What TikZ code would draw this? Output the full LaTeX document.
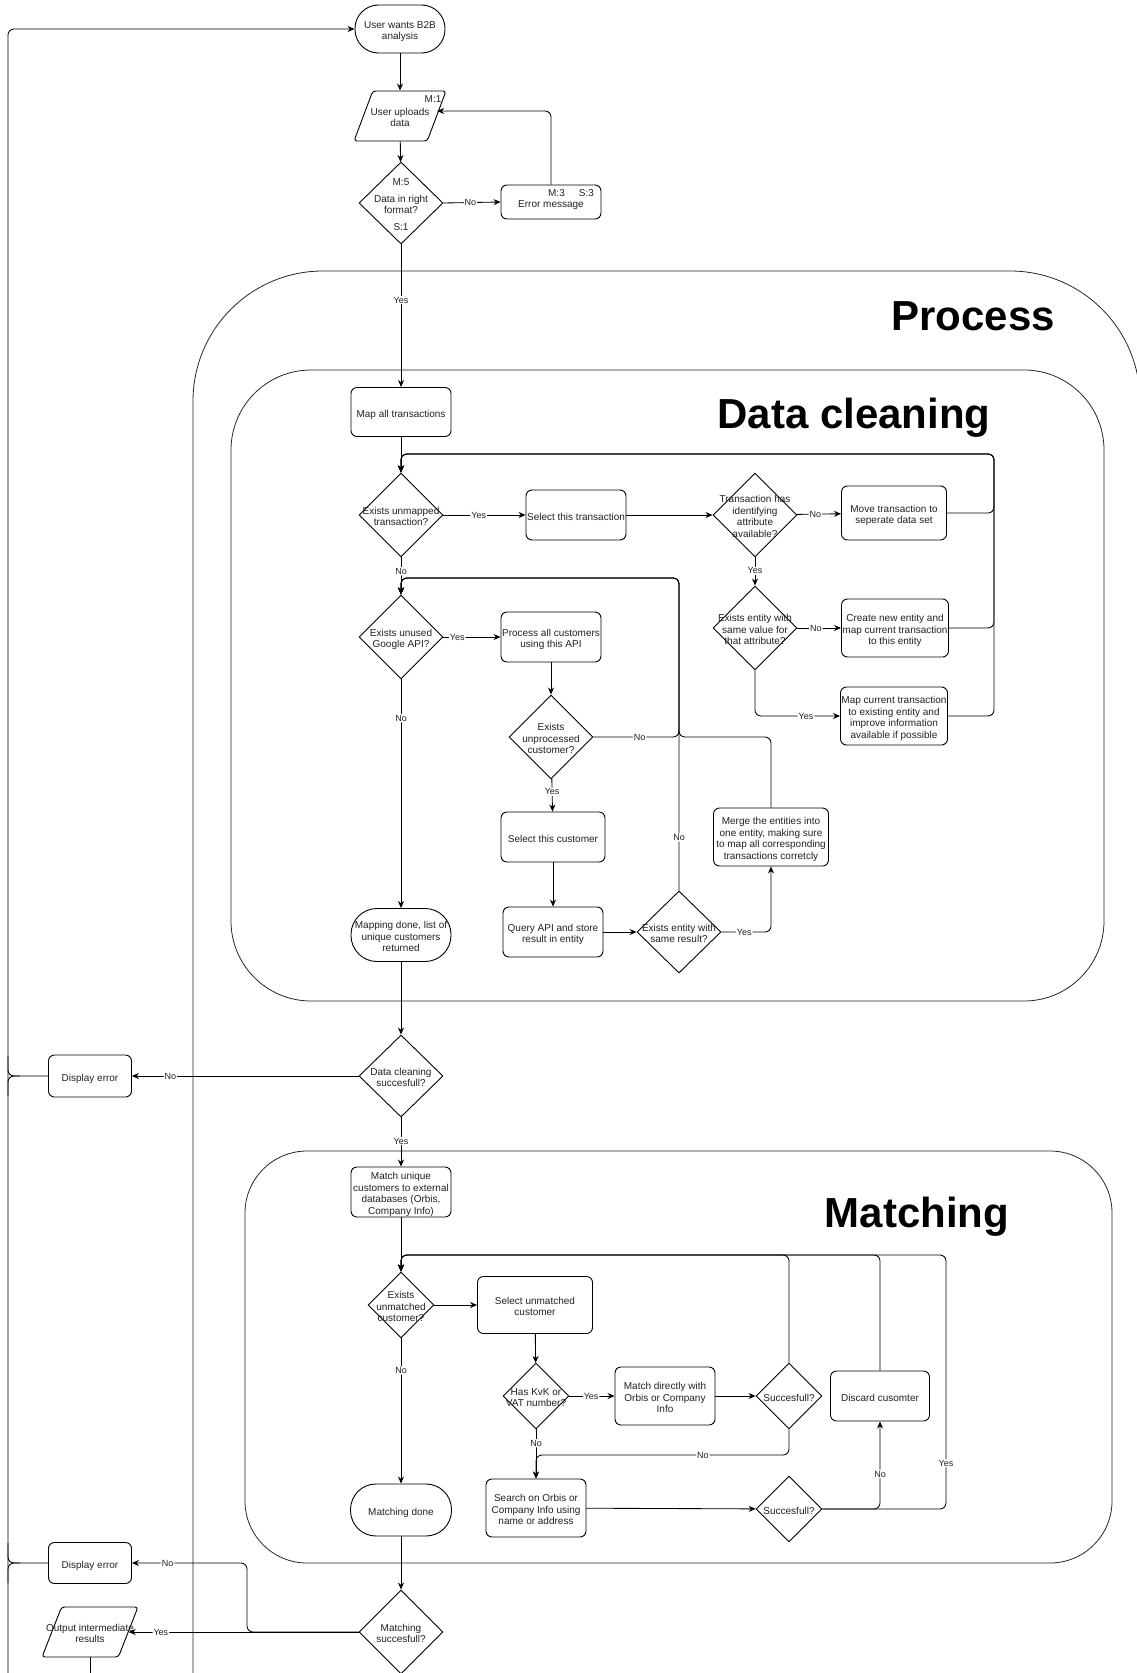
\documentclass[tikz,border=0pt]{standalone}
\usepackage{fontspec}
\setmainfont{Liberation Sans}
\usetikzlibrary{shapes.geometric,arrows.meta,calc}

% centred multi-line text that takes no room, so shapes keep their set size
\newcommand{\tx}[1]{\raisebox{-0.52em}[0pt][0pt]{\makebox[0pt]{\begin{tabular}{@{}c@{}}#1\end{tabular}}}}
\definecolor{ink}{HTML}{222222}

\tikzset{
  every node/.style={font=\fontsize{10}{11.7}\selectfont, text=ink},
  shapebase/.style={draw=black, line width=0.9pt, fill=white, inner sep=0pt},
  procbox/.style 2 args={shapebase, rectangle, rounded corners=6pt, minimum width=#1, minimum height=#2},
  terminal/.style 2 args={shapebase, rectangle, rounded corners=#2/2-0.5, minimum width=#1, minimum height=#2},
  decision/.style 2 args={shapebase, diamond, minimum width=#1, minimum height=#2},
  iobox/.style 2 args={shapebase, inner sep=2pt, trapezium, trapezium left angle=71, trapezium right angle=109,
    trapezium stretches=true, rounded corners=3pt, minimum width=#1, minimum height=#2},
  flow/.style={draw=black, line width=0.85pt, rounded corners=6pt, -{Stealth[length=7pt,width=6pt]}},
  plain/.style={draw=black, line width=0.85pt, rounded corners=6pt},
  lbl/.style={fill=white, inner sep=1pt, font=\fontsize{9}{10}\selectfont},
  title/.style={font=\fontsize{42}{48}\selectfont\bfseries, text=black, anchor=base, inner sep=0pt},
  frame/.style={draw=black!85, line width=0.8pt},
}

\begin{document}
\begin{tikzpicture}[x=1pt, y=-1pt]
\useasboundingbox (0,0) rectangle (1136,1673);

% ---- containers ----
\draw[frame, rounded corners=130pt] (193,1690) -- (193,271) -- (1140,271) -- (1140,1690);
\draw[frame, rounded corners=80pt] (231,370) rectangle (1104,1001);
\draw[frame, rounded corners=62pt] (245,1151) rectangle (1112,1563);

\node[title] (tproc) at (973,330) {Process};
\node[title] (tdc) at (854,428) {Data cleaning};
\node[title] (tmatch) at (917,1227) {Matching};

% ---- intake ----
\node[terminal={90}{48}] (start) at (400,29) {\tx{User wants B2B\\analysis}};
\node[iobox={92}{50}] (upload) at (400,116) {\tx{User uploads\\data}};
\node (m1) at (433,99) {M:1};
\node[decision={84}{82}] (fmt) at (401,203) {\tx{Data in right\\format?}};
\node (fmtm) at (401,182) {M:5};
\node (fmts) at (401,227) {S:1};
\node[procbox={100}{34}] (err) at (551,202) {\tx{Error message}};
\node (errms) at (571,193) {M:3\hspace{14pt}S:3};

% ---- data cleaning ----
\node[procbox={100}{49}] (mapall) at (401,412) {\tx{Map all transactions}};
\node[decision={84}{84}] (unmapped) at (401,515) {\tx{Exists unmapped\\transaction?}};
\node[procbox={100}{50}] (seltr) at (576,515) {\tx{Select this transaction}};
\node[decision={84}{84}] (ident) at (755,515) {\tx{Transaction has\\identifying\\attribute\\available?}};
\node[procbox={105}{54}] (move) at (894,513) {\tx{Move transaction to\\seperate data set}};
\node[decision={84}{84}] (samev) at (755,628) {\tx{Exists entity with\\same value for\\that attribute?}};
\node[procbox={107}{58}] (create) at (895,628) {\tx{Create new entity and\\map current transaction\\to this entity}};
\node[procbox={107}{58}] (mapcur) at (894,716) {\tx{Map current transaction\\to existing entity and\\improve information\\available if possible}};
\node[decision={84}{84}] (google) at (401,637) {\tx{Exists unused\\Google API?}};
\node[procbox={100}{50}] (procall) at (551,637) {\tx{Process all customers\\using this API}};
\node[decision={84}{84}] (unproc) at (551,737) {\tx{Exists\\unprocessed\\customer?}};
\node[procbox={104}{50}] (selcust) at (553,837) {\tx{Select this customer}};
\node[procbox={100}{50}] (query) at (553,932) {\tx{Query API and store\\result in entity}};
\node[decision={84}{82}] (sameres) at (679,932) {\tx{Exists entity with\\same result?}};
\node[procbox={115}{58}] (merge) at (771,837) {\tx{Merge the entities into\\one entity, making sure\\to map all corresponding\\transactions corretcly}};
\node[terminal={100}{53}] (mapdone) at (401,935) {\tx{Mapping done, list of\\unique customers\\returned}};

% ---- checks and matching ----
\node[decision={84}{82}] (dcok) at (401,1076) {\tx{Data cleaning\\succesfull?}};
\node[procbox={83}{42}] (derr1) at (90,1076) {\tx{Display error}};
\node[procbox={100}{50}] (matchext) at (401,1192) {\tx{Match unique\\customers to external\\databases (Orbis,\\Company Info)}};
\node[decision={66}{66}] (unmatched) at (401,1305) {\tx{Exists\\unmatched\\customer?}};
\node[procbox={115}{57}] (selun) at (535,1305) {\tx{Select unmatched\\customer}};
\node[decision={66}{66}] (kvk) at (536,1396) {\tx{Has KvK or\\VAT number?}};
\node[procbox={100}{58}] (direct) at (665,1396) {\tx{Match directly with\\Orbis or Company\\Info}};
\node[decision={66}{66}] (succ1) at (789,1396) {\tx{Succesfull?}};
\node[procbox={99}{50}] (discard) at (880,1396) {\tx{Discard cusomter}};
\node[procbox={100}{58}] (search) at (536,1508) {\tx{Search on Orbis or\\Company Info using\\name or address}};
\node[decision={66}{66}] (succ2) at (789,1509) {\tx{Succesfull?}};
\node[terminal={101}{52}] (mdone) at (401,1510) {\tx{Matching done}};
\node[decision={84}{84}] (mok) at (401,1632) {\tx{Matching\\succesfull?}};
\node[procbox={83}{41}] (derr2) at (90,1563) {\tx{Display error}};
\node[iobox={96}{50}] (outres) at (90,1632) {\tx{Output intermediate\\results}};

% ---- routing points ----
\coordinate (lbot) at (8,1690);
\coordinate (obot) at (90,1690);
\coordinate (j1) at (8,1076);
\coordinate (j2) at (8,1563);
\coordinate (dcR) at (994,454);
\coordinate (gl) at (679,578);
\coordinate (mj) at (679,737);
\coordinate (mR) at (946,1255);
\coordinate (sj) at (789,1455);
\coordinate (mj2) at (247,1563);

% ---- connectors: intake ----
\draw[flow] (lbot) |- (start.west);
\draw[flow] (start) -- (upload);
\draw[flow] (upload) -- (fmt);
\draw[flow] (fmt.east) -- node[lbl, pos=0.47]{No} (err.west);
\draw[flow] (err.north) |- ([yshift=5pt]upload.east);
\draw[flow] (fmt) -- node[lbl, pos=0.39]{Yes} (mapall);

% ---- connectors: data cleaning ----
\draw[flow] (mapall) -- (unmapped);
\draw[flow] (unmapped) -- node[lbl, pos=0.43]{Yes} (seltr);
\draw[flow] (seltr) -- (ident);
\draw[flow] (ident) -- node[lbl, pos=0.42]{No} (move);
\draw[flow] (ident) -- node[lbl, pos=0.48]{Yes} (samev);
\draw[flow] (samev) -- node[lbl, pos=0.42]{No} (create);
\draw[flow] (samev.south) |- node[lbl, pos=0.8]{Yes} (mapcur.west);
\draw[flow] (move.east) -| (dcR) -| (unmapped.north);
\draw[flow] (create.east) -| (dcR) -| (unmapped.north);
\draw[flow] (mapcur.east) -| (dcR) -| (unmapped.north);
\draw[flow] (unmapped) -- node[lbl, pos=0.37]{No} (google);
\draw[flow] (google) -- node[lbl, pos=0.24]{Yes} (procall);
\draw[flow] (procall) -- (unproc);
\draw[flow] (unproc.east) -| node[lbl, pos=0.27]{No} (gl) -| (google.north);
\draw[flow] (unproc) -- node[lbl, pos=0.4]{Yes} (selcust);
\draw[flow] (selcust) -- (query);
\draw[flow] (query) -- (sameres);
\draw[flow] (sameres.north) -- node[lbl, pos=0.17]{No} (gl) -| (google.north);
\draw[flow] (sameres.east) -| node[lbl, pos=0.23]{Yes} (merge.south);
\draw[flow] (merge.north) |- (mj) -- (gl) -| (google.north);
\draw[flow] (google) -- node[lbl, pos=0.17]{No} (mapdone);

% ---- connectors: checks and matching ----
\draw[flow] (mapdone) -- (dcok);
\draw[flow] (dcok) -- node[lbl, pos=0.83]{No} (derr1);
\draw[plain] (derr1.west) -- (j1) -- ([yshift=20pt]j1);
\draw[plain] ([xshift=12pt]j1) -- (j1) -- ([yshift=-20pt]j1);
\draw[flow] (dcok) -- node[lbl, pos=0.48]{Yes} (matchext);
\draw[flow] (matchext) -- (unmatched);
\draw[flow] (unmatched) -- (selun);
\draw[flow] (unmatched) -- node[lbl, pos=0.22]{No} (mdone);
\draw[flow] (selun) -- (kvk);
\draw[flow] (kvk) -- node[lbl, pos=0.48]{Yes} (direct);
\draw[flow] (direct) -- (succ1);
\draw[flow] (kvk) -- node[lbl, pos=0.28]{No} (search);
\draw[flow] (succ1.south) -- (sj) -| node[lbl, pos=0.17]{No} (search.north);
\draw[flow] (search) -- (succ2);
\draw[flow] (succ2.east) -| node[lbl, pos=0.7]{No} (discard.south);
\draw[flow] (succ2.east) -| node[lbl, pos=0.59]{Yes} (mR) -| (unmatched.north);
\draw[flow] (succ1.north) -- (succ1.north |- mR) -| (unmatched.north);
\draw[flow] (discard.north) -- (discard.north |- mR) -| (unmatched.north);
\draw[flow] (mdone) -- (mok);
\draw[flow] (mok.west) -| (mj2) -- node[lbl, pos=0.69]{No} (derr2.east);
\draw[plain] (derr2.west) -- (j2) -- ([yshift=20pt]j2);
\draw[plain] ([xshift=12pt]j2) -- (j2) -- ([yshift=-20pt]j2);
\draw[flow] (mok.west) -- node[lbl, pos=0.86]{Yes} (outres.east);
\draw[plain] (outres.south) -- (obot);
\end{tikzpicture}
\end{document}
